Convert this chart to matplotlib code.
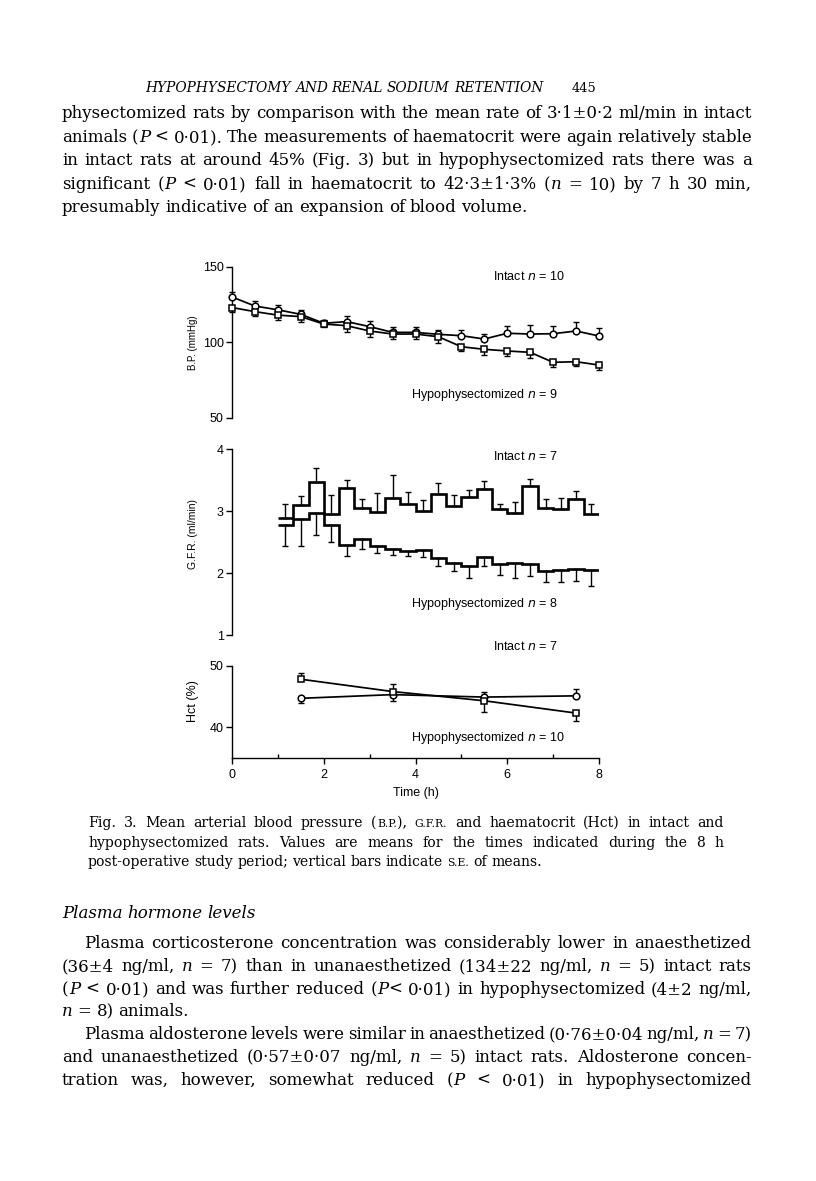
import re
import matplotlib
matplotlib.use("Agg")
import matplotlib.pyplot as plt

# ---------------- data ----------------
bp_time = [0, 0.5, 1, 1.5, 2, 2.5, 3, 3.5, 4, 4.5, 5, 5.5, 6, 6.5, 7, 7.5, 8]
bp_intact = [130, 124, 121.5, 118.5, 112.6, 113.7, 110.4, 106.6, 106.6, 105.3,
             104.4, 102.2, 106.0, 105.5, 105.7, 107.5, 104.2]
bp_intact_se = [3, 3, 3, 3, 2, 4, 4, 3.5, 3.5, 3, 4, 3.5, 4.5, 6, 5, 6, 5]
bp_hypo = [123, 120.3, 118.0, 117.0, 112.1, 111.0, 107.5, 105.5, 105.5, 103.7,
           97.1, 95.4, 94.3, 93.4, 86.8, 87.2, 85.0]
bp_hypo_se = [3, 3, 3.5, 3.5, 2, 4, 4, 3, 3, 4, 3, 4, 3.5, 3.5, 3, 3, 3]

gfr_edges = [1.0, 1.33, 1.67, 2.0, 2.33, 2.67, 3.0, 3.33, 3.67, 4.0, 4.33,
             4.67, 5.0, 5.33, 5.67, 6.0, 6.33, 6.67, 7.0, 7.33, 7.67, 8.0]
gfr_intact = [2.89, 3.10, 3.47, 2.96, 3.37, 3.05, 2.99, 3.22, 3.12, 3.01, 3.27,
              3.09, 3.23, 3.36, 3.04, 2.97, 3.41, 3.05, 3.04, 3.19, 2.96]
gfr_intact_se = [0.23, 0.14, 0.22, 0.30, 0.13, 0.14, 0.30, 0.36, 0.19, 0.17, 0.18,
                 0.17, 0.11, 0.13, 0.08, 0.18, 0.11, 0.14, 0.18, 0.13, 0.16]
gfr_hypo = [2.77, 2.88, 2.97, 2.78, 2.46, 2.55, 2.44, 2.39, 2.36, 2.38, 2.24,
            2.16, 2.12, 2.26, 2.14, 2.17, 2.14, 2.04, 2.05, 2.07, 2.05]
gfr_hypo_se = [0.33, 0.44, 0.36, 0.28, 0.19, 0.16, 0.12, 0.09, 0.08, 0.12, 0.13,
               0.12, 0.20, 0.15, 0.17, 0.25, 0.19, 0.18, 0.19, 0.19, 0.26]

hct_time = [1.5, 3.5, 5.5, 7.5]
hct_intact = [44.7, 45.3, 44.9, 45.1]
hct_intact_se = [0.8, 1.1, 0.9, 1.1]
hct_hypo = [47.8, 45.8, 44.3, 42.3]
hct_hypo_se = [1.0, 1.3, 1.8, 1.3]

# ---------------- page text ----------------
head = "HYPOPHYSECTOMY AND RENAL SODIUM RETENTION"
para1 = [
    "physectomized rats by comparison with the mean rate of 3·1±0·2 ml/min in intact",
    "animals (_P_ < 0·01). The measurements of haematocrit were again relatively stable",
    "in intact rats at around 45% (Fig. 3) but in hypophysectomized rats there was a",
    "significant (_P_ < 0·01) fall in haematocrit to 42·3±1·3% (_n_ = 10) by 7 h 30 min,",
    "presumably indicative of an expansion of blood volume.",
]
caption = [
    "Fig. 3. Mean arterial blood pressure (^B.P.^), ^G.F.R.^ and haematocrit (Hct) in intact and",
    "hypophysectomized rats. Values are means for the times indicated during the 8 h",
    "post-operative study period; vertical bars indicate ^S.E.^ of means.",
]
para2 = [
    "Plasma corticosterone concentration was considerably lower in anaesthetized",
    "(36±4 ng/ml, _n_ = 7) than in unanaesthetized (134±22 ng/ml, _n_ = 5) intact rats",
    "(_P_ < 0·01) and was further reduced (_P_< 0·01) in hypophysectomized (4±2 ng/ml,",
    "_n_ = 8) animals.",
    "Plasma aldosterone levels were similar in anaesthetized (0·76±0·04 ng/ml, _n_ = 7)",
    "and unanaesthetized (0·57±0·07 ng/ml, _n_ = 5) intact rats. Aldosterone concen-",
    "tration was, however, somewhat reduced (_P_ < 0·01) in hypophysectomized",
]

W, H = 816, 1181
fig = plt.figure(figsize=(W / 100, H / 100), dpi=100)
renderer = fig.canvas.get_renderer()
SERIF = "DejaVu Serif"
SANS = "Liberation Sans"
plt.rcParams["mathtext.fontset"] = "dejavusans"


def fx(x):
    return x / W


def fy(y):
    return 1 - y / H


def rect(x0, x1, ytop, ybot):
    return [fx(x0), fy(ybot), (x1 - x0) / W, (ybot - ytop) / H]


def pieces(word):
    out = []
    for part in re.split(r"(_[^_]+_|\^[^^]+\^)", word):
        if not part:
            continue
        if part.startswith("_"):
            out.append((part[1:-1], "italic", 1.0))
        elif part.startswith("^"):
            out.append((part[1:-1], "normal", 0.78))
        else:
            out.append((part, None, 1.0))
    return out


def make_words(line, size, style="normal"):
    words = []
    for w in line.split(" "):
        arts = []
        for txt, st, sc in pieces(w):
            t = fig.text(0, 0, txt, fontsize=size * sc, family=SERIF,
                         style=st or style, va="baseline", ha="left")
            arts.append((t, t.get_window_extent(renderer).width + 0.4))
        words.append(arts)
    return words


def fit_size(lines, width, size, style="normal", space_em=0.27):
    # largest font size at which every justified line still fits
    ratio = 10.0
    for ln in lines:
        words = make_words(ln, size, style)
        tot = sum(w for a in words for _, w in a)
        for a in words:
            for t, _ in a:
                t.remove()
        sp = space_em * size * 100 / 72 * (len(words) - 1)
        ratio = min(ratio, width / (tot + sp))
    return size * ratio


def text_line(line, x0, y, size, width=None, style="normal"):
    words = make_words(line, size, style)
    widths = [sum(w for _, w in a) for a in words]
    space = 0.27 * size * 100 / 72
    if width is not None and len(words) > 1:
        space = (width - sum(widths)) / (len(words) - 1)
    x = x0
    for arts, ww in zip(words, widths):
        xx = x
        for t, w in arts:
            t.set_position((fx(xx), fy(y)))
            xx += w
        x += ww + space


L, R = 62, 752
body = fit_size(para1[:4] + para2[1:3] + para2[5:], R - L, 11)
cap = fit_size(caption[:2], 724 - 88, 9) * 0.93
hsize = fit_size([head], 400, 10, style="italic", space_em=0.3)

text_line(head, 145, 92, hsize, style="italic")
text_line("445", 572, 92, hsize * 0.95)

for i, (ln, y) in enumerate(zip(para1, [118, 142, 165, 189, 212])):
    text_line(ln, L, y, body, None if i == 4 else R - L)

for i, (ln, y) in enumerate(zip(caption, [827, 847, 866])):
    text_line(ln, 88, y, cap, None if i == 2 else 724 - 88)

text_line("Plasma hormone levels", L, 918, body, style="italic")

ys2 = [948, 971, 994, 1016, 1039, 1062, 1085]
for i, (ln, y) in enumerate(zip(para2, ys2)):
    x0 = L + 22 if i in (0, 4) else L
    text_line(ln, x0, y, body, None if i == 3 else R - x0)

# ---------------- figure panels ----------------
X0, X1 = 232, 599


def style_axis(ax, yticks, bottom=False):
    ax.set_xlim(0, 8)
    ax.set_facecolor("none")
    for s in ["top", "right"] + ([] if bottom else ["bottom"]):
        ax.spines[s].set_visible(False)
    ax.spines["left"].set_linewidth(1.0)
    ax.set_yticks(yticks)
    ax.tick_params(axis="y", direction="out", length=4, width=1.0, pad=2,
                   labelsize=9)
    for lab in ax.get_yticklabels():
        lab.set_family(SANS)
    if not bottom:
        ax.set_xticks([])


def away(a, b, se):
    lo = [s if v < o else 0 for v, o, s in zip(a, b, se)]
    hi = [s if v >= o else 0 for v, o, s in zip(a, b, se)]
    return [lo, hi]


def marker_series(ax, t, a, b, se_a, se_b):
    for v, o, se in [(a, b, se_a), (b, a, se_b)]:
        ax.plot(t, v, "-", color="black", lw=1.25, zorder=2, clip_on=False)
        ax.errorbar(t, v, yerr=away(v, o, se), fmt="none", ecolor="black",
                    elinewidth=1.0, capsize=2.5, capthick=1.0, zorder=3,
                    clip_on=False)
    for v, m in [(a, "o"), (b, "s")]:
        ax.plot(t, v, m, mfc="white", mec="black", ms=4.8, mew=1.1,
                zorder=4, clip_on=False)


# B.P.
ax1 = fig.add_axes(rect(X0, X1, 266.7, 418))
ax1.set_ylim(50, 150)
style_axis(ax1, [50, 100, 150])
marker_series(ax1, bp_time, bp_intact, bp_hypo, bp_intact_se, bp_hypo_se)
ax1.text(5.7, 141, "Intact $n$ = 10", fontsize=9, family=SANS)
ax1.text(3.9, 63, "Hypophysectomized $n$ = 9", fontsize=9, family=SANS)

# G.F.R.
ax2 = fig.add_axes(rect(X0, X1, 449.3, 635))
ax2.set_ylim(1, 4)
style_axis(ax2, [1, 2, 3, 4])
mid = [(gfr_edges[i] + gfr_edges[i + 1]) / 2 for i in range(len(gfr_edges) - 1)]
for v, o, se in [(gfr_intact, gfr_hypo, gfr_intact_se), (gfr_hypo, gfr_intact, gfr_hypo_se)]:
    ax2.stairs(v, gfr_edges, baseline=None, color="black", lw=1.9, zorder=3)
    ax2.errorbar(mid, v, yerr=away(v, o, se), fmt="none", ecolor="black",
                 elinewidth=1.0, capsize=2.5, capthick=1.0, zorder=2)
ax2.text(5.7, 3.83, "Intact $n$ = 7", fontsize=9, family=SANS)
ax2.text(3.9, 1.45, "Hypophysectomized $n$ = 8", fontsize=9, family=SANS)

# Hct
ax3 = fig.add_axes(rect(X0, X1, 665.7, 758))
ax3.set_ylim(35, 50)
style_axis(ax3, [40, 50], bottom=True)
ax3.spines["bottom"].set_linewidth(1.0)
marker_series(ax3, hct_time, hct_intact, hct_hypo, hct_intact_se, hct_hypo_se)
ax3.set_xticks([0, 2, 4, 6, 8])
ax3.set_xticks([1, 3, 5, 7], minor=True)
ax3.tick_params(axis="x", which="major", direction="out", length=4, width=1.0,
                pad=4, labelsize=9)
ax3.tick_params(axis="x", which="minor", direction="in", length=3, width=1.0)
for lab in ax3.get_xticklabels():
    lab.set_family(SANS)
ax3.text(5.7, 52.6, "Intact $n$ = 7", fontsize=9, family=SANS, clip_on=False)
ax3.text(3.9, 37.8, "Hypophysectomized $n$ = 10", fontsize=9, family=SANS)
ax3.set_xlabel("Time (h)", fontsize=9, family=SANS, labelpad=4)

fig.text(fx(193), fy(343), "B.P. (mmHg)", rotation=90, fontsize=7, family=SANS,
         ha="center", va="center")
fig.text(fx(193), fy(534), "G.F.R. (ml/min)", rotation=90, fontsize=7.5,
         family=SANS, ha="center", va="center")
fig.text(fx(193), fy(701), "Hct (%)", rotation=90, fontsize=9, family=SANS,
         ha="center", va="center")

fig.savefig("out.png", dpi=100)
